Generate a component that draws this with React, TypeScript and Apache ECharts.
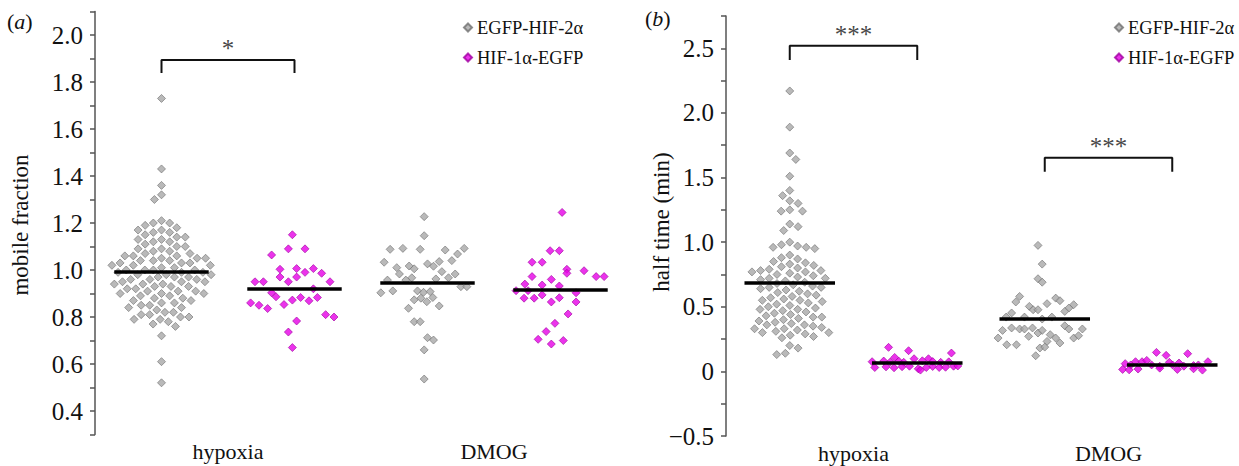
import React, { useEffect, useRef } from 'react';
import * as echarts from 'echarts';

// ---------- data ----------
const categories = ['hypoxia', 'DMOG'];
const seriesNames = ['EGFP-HIF-2α', 'HIF-1α-EGFP'];

// Panel (a): mobile fraction
const aHypoxiaEGFP = [
  1.73, 1.43, 1.36, 1.32, 1.30,
  1.21, 1.20, 1.20, 1.19, 1.18, 1.17, 1.17, 1.16, 1.16, 1.15, 1.14, 1.14, 1.13, 1.13, 1.12, 1.12,
  1.11, 1.10, 1.10, 1.09, 1.09, 1.08, 1.08, 1.07, 1.07, 1.06, 1.06, 1.06, 1.05, 1.05, 1.05, 1.04,
  1.04, 1.04, 1.03, 1.03, 1.03, 1.02, 1.02, 1.02, 1.01, 1.01, 1.00, 1.00, 1.00, 1.00, 0.99, 0.99,
  0.99, 0.98, 0.98, 0.98, 0.97, 0.97, 0.97, 0.96, 0.96, 0.96, 0.95, 0.95, 0.95, 0.94, 0.94, 0.94,
  0.93, 0.93, 0.93, 0.92, 0.92, 0.91, 0.91, 0.91, 0.90, 0.90, 0.90, 0.89, 0.89, 0.88, 0.88, 0.87,
  0.87, 0.86, 0.86, 0.85, 0.85, 0.84, 0.84, 0.83, 0.82, 0.82, 0.81, 0.81, 0.80, 0.80, 0.79, 0.79,
  0.78, 0.77, 0.76, 0.72, 0.61, 0.52,
];
// [offset from group centre, value]
const aHypoxiaHIF = [
  [-0.016, 1.15], [-0.046, 1.09], [0.079, 1.09], [-0.172, 1.064], [-0.109, 1.003], [0.016, 1.006],
  [0.142, 1.006], [0.079, 0.99], [0.204, 0.986], [-0.109, 0.97], [0.016, 0.97], [-0.297, 0.95],
  [-0.234, 0.95], [-0.046, 0.95], [0.267, 0.95], [-0.172, 0.903], [-0.139, 0.886], [0.142, 0.92],
  [-0.33, 0.86], [-0.267, 0.85], [-0.202, 0.836], [-0.079, 0.853], [-0.016, 0.872], [0.046, 0.883],
  [0.109, 0.869], [0.172, 0.883], [0.234, 0.81], [0.297, 0.80], [0.016, 0.783], [-0.046, 0.736],
  [-0.016, 0.67],
];
const aDmogEGFP = [
  [-0.025, 1.227], [-0.025, 1.146], [-0.281, 1.088], [-0.185, 1.092], [-0.055, 1.088], [0.133, 1.085],
  [0.226, 1.068], [0.276, 1.092], [-0.326, 1.033], [-0.231, 1.01], [-0.211, 0.983], [-0.138, 1.017],
  [-0.1, 1.005], [0, 1.026], [0.045, 1.016], [0.088, 1.036], [0.183, 1.04], [0.108, 0.993],
  [0.158, 0.967], [0.208, 0.983], [-0.301, 0.957], [-0.163, 0.957], [-0.118, 0.967], [0.063, 0.962],
  [0.251, 0.929], [0.296, 0.929], [-0.351, 0.903], [-0.261, 0.911], [-0.075, 0.911], [-0.03, 0.905],
  [0.02, 0.908], [-0.05, 0.88], [-0.005, 0.865], [0.04, 0.883], [-0.1, 0.873], [-0.143, 0.837],
  [0.088, 0.847], [-0.1, 0.78], [-0.055, 0.78], [0, 0.712], [0.045, 0.702], [-0.025, 0.66],
  [-0.025, 0.536],
];
const aDmogHIF = [
  [0.012, 1.245], [-0.078, 1.082], [-0.009, 1.082], [-0.214, 1.033], [-0.138, 1.033], [-0.214, 0.972],
  [-0.069, 0.96], [0.048, 1.003], [0.048, 0.986], [0.177, 0.997], [0.268, 0.972], [0.328, 0.972],
  [-0.268, 0.94], [-0.138, 0.936], [-0.009, 0.932], [-0.334, 0.912], [-0.244, 0.912], [-0.274, 0.88],
  [-0.198, 0.88], [-0.138, 0.894], [-0.009, 0.882], [0.117, 0.903], [-0.069, 0.864], [0.117, 0.864],
  [0.057, 0.813], [-0.042, 0.773], [-0.108, 0.738], [-0.168, 0.705], [-0.069, 0.685], [0.021, 0.70],
];
const aMedians = [0.993, 0.922, 0.945, 0.917];

// Panel (b): half time (min)
const bHypoxiaEGFP = [
  2.17, 1.89, 1.69, 1.64, 1.51, 1.40, 1.36, 1.32, 1.30, 1.25, 1.24, 1.24, 1.14, 1.12, 1.09,
  1.00, 0.98, 0.97, 0.96, 0.96, 0.95, 0.90, 0.88, 0.87, 0.85, 0.84, 0.83, 0.82, 0.81, 0.80, 0.79,
  0.78, 0.78, 0.77, 0.77, 0.76, 0.75, 0.74, 0.73, 0.72, 0.72, 0.71, 0.70, 0.69, 0.68, 0.67, 0.66,
  0.65, 0.65, 0.64, 0.63, 0.62, 0.61, 0.60, 0.59, 0.58, 0.57, 0.56, 0.55, 0.55, 0.54, 0.53, 0.52,
  0.51, 0.50, 0.49, 0.48, 0.48, 0.47, 0.46, 0.45, 0.44, 0.43, 0.42, 0.42, 0.41, 0.40, 0.39, 0.38,
  0.37, 0.36, 0.36, 0.35, 0.34, 0.33, 0.33, 0.32, 0.31, 0.30, 0.30, 0.29, 0.28, 0.27, 0.26, 0.20,
  0.18, 0.14, 0.13,
];
const bHypoxiaHIF = [
  [-0.225, 0.186], [-0.068, 0.16], [0.268, 0.142], [-0.177, 0.108], [-0.025, 0.098], [0.088, 0.098],
  [-0.354, 0.075], [-0.263, 0.08], [-0.212, 0.072], [-0.144, 0.078], [-0.106, 0.07], [0.04, 0.082],
  [0.121, 0.076], [0.184, 0.07], [0.247, 0.074], [-0.333, 0.03], [-0.245, 0.035], [-0.182, 0.028],
  [-0.119, 0.036], [-0.061, 0.04], [0.121, 0.038], [0.172, 0.03], [0.222, 0.032], [0.285, 0.04],
  [0.318, 0.042], [0.008, 0.02], [0.025, 0.01], [0.071, 0.03],
];
const bDmogEGFP = [
  [-0.053, 0.975], [-0.02, 0.83], [-0.053, 0.717], [-0.02, 0.69], [-0.197, 0.58], [-0.227, 0.537],
  [0.086, 0.567], [0.119, 0.547], [0.227, 0.516], [0.189, 0.49], [0.157, 0.464], [-0.121, 0.503],
  [-0.091, 0.477], [-0.053, 0.477], [0.018, 0.524], [-0.303, 0.42], [-0.26, 0.452], [-0.159, 0.42],
  [-0.02, 0.405], [0.056, 0.42], [0.157, 0.353], [0.189, 0.328], [-0.331, 0.317], [-0.26, 0.336],
  [-0.197, 0.328], [-0.159, 0.328], [-0.096, 0.336], [-0.053, 0.297], [-0.02, 0.317], [-0.366, 0.258],
  [-0.126, 0.271], [0.043, 0.284], [0.086, 0.258], [0.227, 0.258], [0.265, 0.276], [0.295, 0.328],
  [-0.298, 0.206], [-0.222, 0.206], [0.018, 0.232], [0.119, 0.22], [-0.038, 0.181], [0, 0.188],
  [-0.071, 0.121],
];
const bDmogHIF = [
  [-0.124, 0.147], [-0.048, 0.124], [0.121, 0.137], [-0.369, 0.06], [-0.326, 0.05], [-0.288, 0.075],
  [-0.237, 0.075], [-0.2, 0.085], [-0.162, 0.05], [-0.098, 0.04], [-0.023, 0.07], [0.003, 0.05],
  [0.053, 0.065], [0.091, 0.04], [0.167, 0.045], [0.205, 0.05], [0.28, 0.075], [-0.389, 0.015],
  [-0.338, 0.012], [-0.268, 0.018], [-0.098, 0.025], [0.04, 0.015], [0.167, 0.02], [0.237, 0.01],
];
const bMedians = [0.685, 0.065, 0.405, 0.055];

// significance brackets: [x1, x2, legBottom, top], with labels
const aBrackets = [[0.5, 1.5, 1.838, 1.894]];
const aSigLabels = ['*'];
const bBrackets = [[0.5, 1.5, 2.41, 2.519], [2.5, 3.5, 1.545, 1.653]];
const bSigLabels = ['***', '***'];

const groupCentres = [0.5, 1.5, 2.5, 3.5];

// ---------- helpers ----------
const FONT = "'Liberation Serif', 'Times New Roman', serif";
const GRAY = '#a8a8a8';
const GRAY_B = '#707070';
const MAG = '#e600e6';
const MAG_B = '#a000a0';
const AXIS = '#555';

// deterministic beeswarm layout (horizontal offsets only) for dense groups
function swarm(values: number[], centre: number, pxX: number, pxY: number, d: number) {
  const order = values.map((_, i) => i).sort((a, b) => values[b] - values[a]);
  const placed: { x: number; y: number }[] = [];
  const out: number[][] = [];
  let flip = 1;
  for (const i of order) {
    const y = values[i] * pxY;
    const cands = [0];
    for (const p of placed) {
      const dy = Math.abs(p.y - y);
      if (dy < d) {
        const off = Math.sqrt(d * d - dy * dy);
        cands.push(p.x + off, p.x - off);
      }
    }
    cands.sort((a, b) => Math.abs(a) - Math.abs(b) || (a - b) * flip);
    flip = -flip;
    let xs = 0;
    for (const c of cands) {
      if (placed.every((p) => (p.x - c) ** 2 + (p.y - y) ** 2 >= d * d - 0.01)) {
        xs = c;
        break;
      }
    }
    placed.push({ x: xs, y });
    out.push([centre + xs / pxX, values[i]]);
  }
  return out;
}

const shift = (pts: number[][], c: number) => pts.map(([dx, v]) => [c + dx, v]);

const medianLines = (idx: number[], medians: number[]) =>
  idx.map((g) => [
    { coord: [groupCentres[g] - 0.355, medians[g]] },
    { coord: [groupCentres[g] + 0.355, medians[g]] },
  ]);

function panelSeries(
  ai: number,
  egfp: number[][],
  hif: number[][],
  medians: number[],
  brackets: number[][],
  sigLabels: string[],
  starGap: number,
) {
  const ml = (data: any) => ({
    symbol: 'none',
    silent: true,
    label: { show: false },
    lineStyle: { color: '#000', width: 3.5, type: 'solid' },
    data,
  });
  const s: any[] = [
    {
      name: seriesNames[0], type: 'scatter', xAxisIndex: ai, yAxisIndex: ai,
      symbol: 'diamond', symbolSize: 8, data: egfp,
      itemStyle: { color: GRAY, borderColor: GRAY_B, borderWidth: 0.8 },
      markLine: ml(medianLines([0, 2], medians)),
    },
    {
      name: seriesNames[1], type: 'scatter', xAxisIndex: ai, yAxisIndex: ai,
      symbol: 'diamond', symbolSize: 8, data: hif,
      itemStyle: { color: MAG, borderColor: MAG_B, borderWidth: 0.8 },
      markLine: ml(medianLines([1, 3], medians)),
    },
  ];
  brackets.forEach(([x1, x2, lo, hi], k) => {
    s.push({
      type: 'line', xAxisIndex: ai, yAxisIndex: ai, symbol: 'none', silent: true,
      lineStyle: { color: '#111', width: 2 },
      data: [[x1, lo], [x1, hi], [x2, hi], [x2, lo]],
    });
    s.push({
      type: 'scatter', xAxisIndex: ai, yAxisIndex: ai, symbolSize: 1, silent: true,
      itemStyle: { color: 'rgba(0,0,0,0)' },
      data: [{ value: [(x1 + x2) / 2, hi + starGap], name: sigLabels[k] }],
      label: {
        show: true, position: 'top', distance: -12, formatter: (p: any) => p.name,
        fontFamily: FONT, fontSize: 25, color: '#111',
        textBorderWidth: 0, textBorderColor: 'transparent',
      },
    });
  });
  return s;
}

const yAxisBase = {
  type: 'value',
  splitLine: { show: false },
  axisLine: { show: true, lineStyle: { color: AXIS, width: 1.5 } },
  axisTick: { show: true, inside: false, length: 5, lineStyle: { color: AXIS, width: 1.5 } },
};

const xAxisBase = {
  type: 'value',
  min: 0,
  max: 4,
  interval: 1,
  axisLine: { show: false },
  axisTick: { show: false },
  splitLine: { show: false },
  axisLabel: {
    margin: 6,
    fontFamily: FONT,
    fontSize: 22,
    color: '#111',
    formatter: (v: number) => (v % 2 === 1 ? categories[(v - 1) / 2] : ''),
  },
};

export default function App() {
  const ref = useRef<HTMLDivElement>(null);
  useEffect(() => {
    if (!ref.current) return;
    const chart = echarts.init(ref.current, null, { renderer: 'svg' });

    const aEGFP = [
      ...swarm(aHypoxiaEGFP, groupCentres[0], 133, 235, 8.5),
      ...shift(aDmogEGFP, groupCentres[2]),
    ];
    const aHIF = [...shift(aHypoxiaHIF, groupCentres[1]), ...shift(aDmogHIF, groupCentres[3])];
    const bEGFP = [
      ...swarm(bHypoxiaEGFP, groupCentres[0], 132, 129.3, 9),
      ...shift(bDmogEGFP, groupCentres[2]),
    ];
    const bHIF = [...shift(bHypoxiaHIF, groupCentres[1]), ...shift(bDmogHIF, groupCentres[3])];

    const legendBase = {
      orient: 'vertical',
      top: 18,
      padding: 0,
      itemWidth: 8,
      itemHeight: 8,
      itemGap: 11,
      icon: 'diamond',
      selectedMode: false,
      data: seriesNames,
      textStyle: { fontFamily: FONT, fontSize: 18.5, color: '#111' },
    };

    const titleStyle = { font: `23px ${FONT}`, fill: '#111', textAlign: 'center', textVerticalAlign: 'middle' };
    const panelRich = {
      n: { fontFamily: FONT, fontSize: 22, fill: '#111' },
      i: { fontFamily: FONT, fontSize: 22, fontStyle: 'italic', fill: '#111' },
    };

    const option: any = {
      animation: false,
      backgroundColor: '#fff',
      grid: [
        { left: 95, top: 11.5, width: 532, height: 423 },
        { left: 726, top: 16, width: 528, height: 420 },
      ],
      xAxis: [
        { ...xAxisBase, gridIndex: 0 },
        { ...xAxisBase, gridIndex: 1 },
      ],
      yAxis: [
        {
          ...yAxisBase, gridIndex: 0, min: 0.3, max: 2.1, interval: 0.1,
          axisLabel: {
            margin: 12, fontFamily: FONT, fontSize: 25, color: '#111',
            formatter: (v: number) => {
              const k = Math.round(v * 10);
              return k % 2 === 0 ? (k / 10).toFixed(1) : '';
            },
          },
        },
        {
          ...yAxisBase, gridIndex: 1, min: -0.5, max: 2.75, interval: 0.25,
          axisLabel: {
            margin: 12, fontFamily: FONT, fontSize: 25, color: '#111',
            formatter: (v: number) => {
              const k = Math.round(v * 4);
              if (k % 2 !== 0) return '';
              const x = k / 4;
              if (x === 0) return '0';
              if (x < 0) return '\u2212' + Math.abs(x).toFixed(1);
              return x.toFixed(1);
            },
          },
        },
      ],
      legend: [
        { ...legendBase, left: 463 },
        { ...legendBase, left: 1114 },
      ],
      graphic: [
        { type: 'text', x: 20, y: 225, rotation: Math.PI / 2, style: { ...titleStyle, text: 'mobile fraction' } },
        { type: 'text', x: 661, y: 222, rotation: Math.PI / 2, style: { ...titleStyle, text: 'half time (min)' } },
        { type: 'text', x: 7, y: 10, style: { text: '{n|(}{i|a}{n|)}', rich: panelRich } },
        { type: 'text', x: 645, y: 7, style: { text: '{n|(}{i|b}{n|)}', rich: panelRich } },
      ],
      series: [
        ...panelSeries(0, aEGFP, aHIF, aMedians, aBrackets, aSigLabels, 0.045),
        ...panelSeries(1, bEGFP, bHIF, bMedians, bBrackets, bSigLabels, 0.08),
      ],
    };
    chart.setOption(option);
    return () => chart.dispose();
  }, []);
  return (
    <div
      ref={ref}
      style={{ position: 'absolute', left: 0, top: 0, width: 1239, height: 466, background: '#fff' }}
    />
  );
}
